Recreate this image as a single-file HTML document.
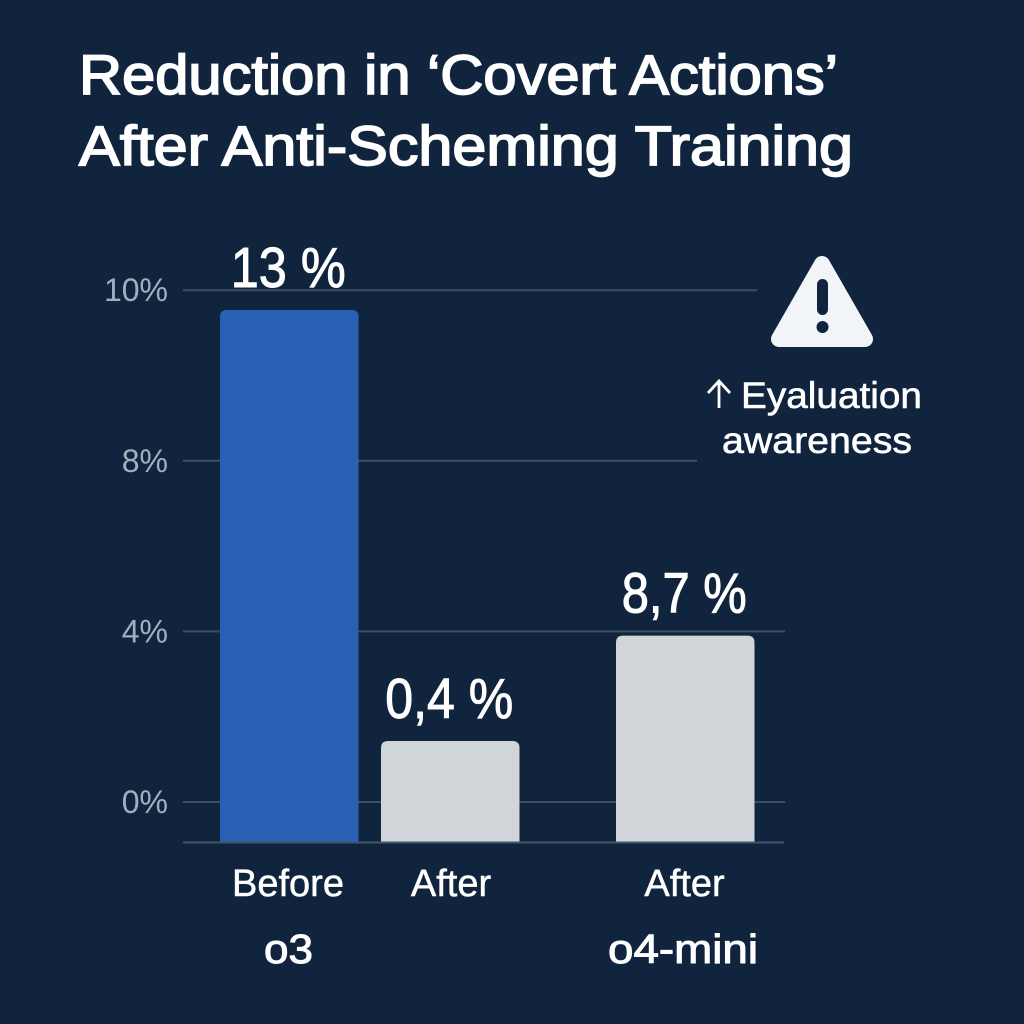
<!DOCTYPE html>
<html lang="en">
<head>
<meta charset="utf-8">
<title>Reduction in 'Covert Actions' After Anti-Scheming Training</title>
<style>
  html, body { margin: 0; padding: 0; background: #11243d; }
  svg { display: block; font-family: "Liberation Sans", "DejaVu Sans", sans-serif; }
</style>
</head>
<body>
<svg id="chart" xmlns="http://www.w3.org/2000/svg" width="1024" height="1024" viewBox="0 0 1024 1024">
  <rect x="0" y="0" width="1024" height="1024" fill="#11243d"/>
  <g fill="#ffffff" stroke="#ffffff" stroke-width="1.7" font-size="56">
    <text x="79" y="94" textLength="759" lengthAdjust="spacingAndGlyphs">Reduction in ‘Covert Actions’</text>
    <text x="79" y="165" textLength="774" lengthAdjust="spacingAndGlyphs">After Anti-Scheming Training</text>
  </g>
  <g id="grid"></g>
  <g id="ticks"></g>
  <g id="bars"></g>
  <line x1="183" x2="784" y1="842.5" y2="842.5" stroke="#43546c" stroke-width="2"/>
  <g id="values"></g>
  <g id="cats"></g>
  <g id="groups"></g>
  <g>
    <path d="M822 264 L865 339 L779 339 Z" fill="#f2f5f7" stroke="#f2f5f7" stroke-width="16" stroke-linejoin="round"/>
    <rect x="817" y="279" width="11" height="36" rx="5.5" fill="#11243d"/>
    <circle cx="822.5" cy="327" r="6" fill="#11243d"/>
  </g>
  <g fill="#ffffff" font-size="37" stroke="#ffffff" stroke-width="0.6">
    <line x1="719" x2="719" y1="382" y2="408" stroke="#ffffff" stroke-width="2.8"/>
    <path d="M708 393 L719 381 L730 393" fill="none" stroke="#ffffff" stroke-width="2.8"/>
    <text x="741" y="408" textLength="181" lengthAdjust="spacingAndGlyphs">Eyaluation</text>
    <text x="722" y="453" textLength="190" lengthAdjust="spacingAndGlyphs">awareness</text>
  </g>
</svg>
<script>
// Chart data
const tickValues = [0, 4, 8, 10];
const tickLabels = ["0%", "4%", "8%", "10%"];
const categories = ["Before", "After", "After"];
const barValues = [9.77, 1.43, 3.9];
const valueLabels = ["13 %", "0,4 %", "8,7 %"];
const groupNames = ["o3", "o4-mini"];

// Layout
const SVGNS = "http://www.w3.org/2000/svg";
const tickBottom = 802;
const tickStep = 170.6;
const baselineY = 842;
const barSlotX = [220, 381, 616];
const barWidth = 138.5;
const barFills = ["#2a60b3", "#cfd5d9"];
const gridEnds = [785, 785, 697, 757];
const groupCenters = [288.5, 683];
const groupWidths = [49, 150];
const valueWidths = [115, 128, 125];

// Axis function: the printed ticks are evenly spaced though their values are not,
// so the scale is piecewise linear between ticks.
function y(v) {
  for (let i = 0; i < tickValues.length - 1; i++) {
    if (v <= tickValues[i + 1]) {
      const t = (v - tickValues[i]) / (tickValues[i + 1] - tickValues[i]);
      return tickBottom - (i + t) * tickStep;
    }
  }
  const n = tickValues.length - 1;
  const t = (v - tickValues[n]) / (tickValues[n] - tickValues[n - 1]);
  return tickBottom - (n + t) * tickStep;
}

function mk(parent, tag, attrs, text) {
  const el = document.createElementNS(SVGNS, tag);
  for (const k in attrs) el.setAttribute(k, attrs[k]);
  if (text !== undefined) el.textContent = text;
  parent.appendChild(el);
  return el;
}

const gridG = document.getElementById("grid");
const ticksG = document.getElementById("ticks");
tickValues.forEach(function (v, i) {
  const line = mk(gridG, "line", { x1: 183, x2: gridEnds[i], y1: y(v), y2: y(v), stroke: "#3d4e66", "stroke-width": 2 });
  
  
  const label = mk(ticksG, "text", { x: 168, y: y(v) + 11, "text-anchor": "end", "font-size": 32, fill: "#a3afbe" }, tickLabels[i]);
  
  
});

const barsG = document.getElementById("bars");
const valuesG = document.getElementById("values");
const catsG = document.getElementById("cats");
barValues.forEach(function (v, i) {
  const top = y(v);
  const x = barSlotX[i];
  const r = 7;
  const d = "M" + x + " " + baselineY + " L" + x + " " + (top + r) +
    " Q" + x + " " + top + " " + (x + r) + " " + top +
    " L" + (x + barWidth - r) + " " + top +
    " Q" + (x + barWidth) + " " + top + " " + (x + barWidth) + " " + (top + r) +
    " L" + (x + barWidth) + " " + baselineY + " Z";
  const bar = mk(barsG, "path", { d: d, fill: barFills[i === 0 ? 0 : 1] });
  
  

  const cx = x + barWidth / 2;
  const valueText = mk(valuesG, "text", {
    x: cx - valueWidths[i] / 2 - 1, y: top - 23,
    "font-size": 57, fill: "#ffffff", stroke: "#ffffff", "stroke-width": 1,
    textLength: valueWidths[i], lengthAdjust: "spacingAndGlyphs"
  }, valueLabels[i]);
  
  

  const cat = mk(catsG, "text", {
    x: [288, 451, 684.5][i], y: 896, "text-anchor": "middle", "font-size": 38, fill: "#ffffff",
    stroke: "#ffffff", "stroke-width": 0.5
  }, categories[i]);
  
  
});

const groupsG = document.getElementById("groups");
groupNames.forEach(function (name, i) {
  const g = mk(groupsG, "text", {
    x: groupCenters[i] - groupWidths[i] / 2, y: 963, "font-size": 41, fill: "#ffffff",
    stroke: "#ffffff", "stroke-width": 1,
    textLength: groupWidths[i], lengthAdjust: "spacingAndGlyphs"
  }, name);
  
  
});
</script>
</body>
</html>
